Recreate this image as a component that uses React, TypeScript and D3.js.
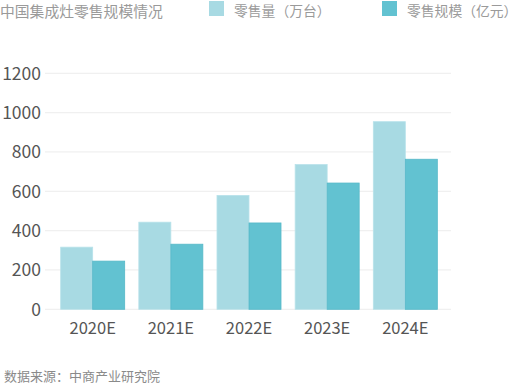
import React from "react";
import * as d3 from "d3";

const categories = ["2020E", "2021E", "2022E", "2023E", "2024E"];
const salesVolume = [316, 443, 579, 736, 954];
const salesValue = [245, 331, 439, 642, 763];
const yTicks = [0, 200, 400, 600, 800, 1000, 1200];
const seriesNames = ["零售量（万台）", "零售规模（亿元）"];
const title = "中国集成灶零售规模情况";
const source = "数据来源：中商产业研究院";

const W = 518;
const H = 384;
const colors = ["#a8dae3", "#62c2d1"];
const font = "'Noto Sans CJK SC', 'Noto Sans', sans-serif";

export default function App() {
  const x = d3
    .scaleBand<string>()
    .domain(categories)
    .range([53.6, 444.4])
    .paddingInner(0.181)
    .paddingOuter(0.0905);
  const y = d3.scaleLinear().domain([0, 1200]).range([309.3, 73.3]);
  const bw = x.bandwidth() / 2;
  const series = [salesVolume, salesValue];

  return (
    <svg
      width={W}
      height={H}
      style={{ position: "absolute", left: 0, top: 0, background: "#fff" }}
      fontFamily={font}
    >
      <text x={0} y={17} fontSize={14.8} fill="#9a9a9a">
        {title}
      </text>
      {seriesNames.map((n, i) => {
        const lx = i === 0 ? 209 : 382;
        return (
          <g key={n}>
            <rect x={lx} y={1} width={15} height={15} fill={colors[i]} />
            <text x={lx + 25} y={16} fontSize={13.8} fill="#9a9a9a">
              {n}
            </text>
          </g>
        );
      })}
      {yTicks.map((t) => (
        <g key={t}>
          <line
            x1={45}
            x2={451}
            y1={y(t)}
            y2={y(t)}
            stroke="#f0f0f0"
            strokeWidth={1.3}
          />
          <text
            x={41}
            y={y(t)}
            dy="0.36em"
            textAnchor="end"
            fontSize={17.5}
            fill="#555"
          >
            {t}
          </text>
        </g>
      ))}
      {categories.map((c, ci) => (
        <g key={c}>
          {series.map((s, si) => (
            <rect
              key={si}
              x={(x(c) as number) + si * bw}
              y={y(s[ci])}
              width={bw}
              height={y(0) - y(s[ci])}
              fill={colors[si]}
              stroke={si === 0 ? "#b8e2ea" : "#56b8c8"}
              strokeWidth={0.8}
            />
          ))}
          <text
            x={(x(c) as number) + x.bandwidth() / 2}
            y={334}
            textAnchor="middle"
            fontSize={16.5}
            fill="#555"
          >
            {c}
          </text>
        </g>
      ))}
      <text x={4} y={381} fontSize={13} fill="#8a8a8a">
        {source}
      </text>
    </svg>
  );
}
